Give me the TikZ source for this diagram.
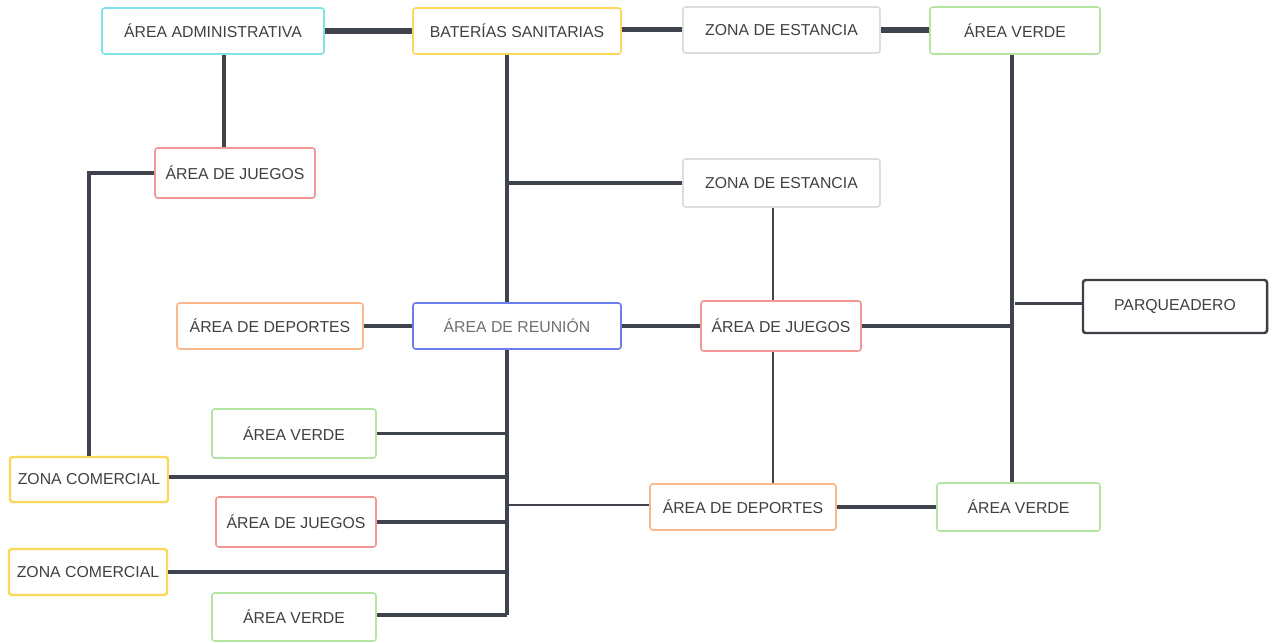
\documentclass[tikz,border=0pt]{standalone}
\usepackage{fontspec}
\setmainfont{Liberation Sans}
\usepackage{tikz}
\usetikzlibrary{calc}
\usetikzlibrary{positioning}
\definecolor{linkgray}{HTML}{3E434D}
\definecolor{txtgray}{HTML}{404040}
\definecolor{bcyan}{HTML}{7FE2E8}
\definecolor{byellow}{HTML}{FAD95A}
\definecolor{bgray}{HTML}{DDDDDD}
\definecolor{bgreen}{HTML}{B4E6A2}
\definecolor{bred}{HTML}{F29696}
\definecolor{borange}{HTML}{FBB88C}
\definecolor{bblue}{HTML}{6A7EEE}
\definecolor{bdark}{HTML}{3A3F48}
\tikzset{link/.style={line width=2.2pt, linkgray}}
\tikzset{heavy link/.style={line width=3pt, linkgray}}
\tikzset{fine link/.style={line width=1.5pt, linkgray}}
\tikzstyle{zone} = [rectangle, rounded corners=1.5pt, line width=0.9pt, fill=white, text=txtgray, font=\fontsize{9}{11}\selectfont, inner sep=0pt, text centered]

\begin{document}
\begin{tikzpicture}[x=0.02cm, y=-0.02cm]
  \useasboundingbox (0,0) rectangle (1277,642);
  \node [zone, draw=bcyan, minimum width=222*0.02cm, minimum height=46*0.02cm] (admin) at (213,31) {ÁREA ADMINISTRATIVA};
  \node [zone, draw=byellow, minimum width=208*0.02cm, minimum height=46*0.02cm] (banos) at (517,31) {BATERÍAS SANITARIAS};
  \node [zone, draw=bgray, minimum width=197*0.02cm, minimum height=46*0.02cm] (estancia1) at (781.5,30) {ZONA DE ESTANCIA};
  \node [zone, draw=bgreen, minimum width=170*0.02cm, minimum height=47*0.02cm] (verde1) at (1015,30.5) {ÁREA VERDE};
  \node [zone, draw=bred, minimum width=160*0.02cm, minimum height=50*0.02cm] (juegos1) at (235,173) {ÁREA DE JUEGOS};
  \node [zone, draw=bgray, minimum width=197*0.02cm, minimum height=48*0.02cm] (estancia2) at (781.5,183) {ZONA DE ESTANCIA};
  \node [zone, draw=borange, minimum width=186*0.02cm, minimum height=46*0.02cm] (deportes1) at (270,326) {ÁREA DE DEPORTES};
  \node [zone, draw=bblue, text=txtgray!75, minimum width=208*0.02cm, minimum height=46*0.02cm] (reunion) at (517,326) {ÁREA DE REUNIÓN};
  \node [zone, draw=bred, minimum width=160*0.02cm, minimum height=50*0.02cm] (juegos2) at (781,326) {ÁREA DE JUEGOS};
  \node [zone, draw=bdark, line width=1.4pt, minimum width=184*0.02cm, minimum height=53*0.02cm] (parqueo) at (1175,306.5) {PARQUEADERO};
  \node [zone, draw=bgreen, minimum width=164*0.02cm, minimum height=49*0.02cm] (verde2) at (294,433.5) {ÁREA VERDE};
  \node [zone, draw=byellow, line width=1.4pt, minimum width=158*0.02cm, minimum height=45*0.02cm] (comercial1) at (89,479.5) {ZONA COMERCIAL};
  \node [zone, draw=bred, minimum width=160*0.02cm, minimum height=50*0.02cm] (juegos3) at (296,522) {ÁREA DE JUEGOS};
  \node [zone, draw=borange, minimum width=186*0.02cm, minimum height=46*0.02cm] (deportes2) at (743,507) {ÁREA DE DEPORTES};
  \node [zone, draw=bgreen, minimum width=163*0.02cm, minimum height=48*0.02cm] (verde3) at (1018.5,507) {ÁREA VERDE};
  \node [zone, draw=byellow, line width=1.4pt, minimum width=158*0.02cm, minimum height=46*0.02cm] (comercial2) at (88,572) {ZONA COMERCIAL};
  \node [zone, draw=bgreen, minimum width=164*0.02cm, minimum height=48*0.02cm] (verde4) at (294,617) {ÁREA VERDE};

  \coordinate (spine) at (507,0);
  \coordinate (rspine) at (1012,0);
  \coordinate (mspine) at (773,0);
  \coordinate (aspine) at (224,0);

  \draw [heavy link] (admin.east) -- (banos.west);
  \draw [heavy link, line width=2.6pt] ($(banos.east)+(0,-1.5)$) -- ($(banos.east -| estancia1.west)+(0,-1.5)$);
  \draw [heavy link, line width=3.4pt] (estancia1.east) -- (estancia1.east -| verde1.west);
  \draw [link] (admin.south -| aspine) -- (juegos1.north -| aspine);
  \draw [link] (juegos1.west) -| (comercial1.north);
  \draw [link] (banos.south -| spine) -- (reunion.north -| spine);
  \draw [link] (spine |- estancia2) -- (estancia2.west);
  \draw [fine link] (estancia2.south -| mspine) -- (juegos2.north -| mspine);
  \draw [fine link] (juegos2.south -| mspine) -- (deportes2.north -| mspine);
  \draw [fine link, line width=1.8pt] (deportes1.east) -- (reunion.west);
  \draw [link] (reunion.east) -- (juegos2.west);
  \draw [link] (juegos2.east) -- (juegos2 -| rspine);
  \draw [link] (verde1.south -| rspine) -- (verde3.north -| rspine);
  \draw [link] ($(rspine |- parqueo)+(3,-3)$) -- ($(parqueo.west)+(0,-3)$);
  \draw [link] (reunion.south -| spine) -- ($(spine |- verde4)+(0,-2)$);
  \draw [link] (verde2.east) -- (verde2 -| spine);
  \draw [link] ($(comercial1.east)+(0,-2.5)$) -- ($(comercial1 -| spine)+(0,-2.5)$);
  \draw [fine link] ($(spine |- deportes2)+(0,-2)$) -- ($(deportes2.west)+(0,-2)$);
  \draw [link] (juegos3.east) -- (juegos3 -| spine);
  \draw [link] (comercial2.east) -- (comercial2 -| spine);
  \draw [link] ($(verde4.east)+(0,-2)$) -- ($(verde4 -| spine)+(0,-2)$);
  \draw [link] (deportes2.east) -- (verde3.west);
\end{tikzpicture}
\end{document}
